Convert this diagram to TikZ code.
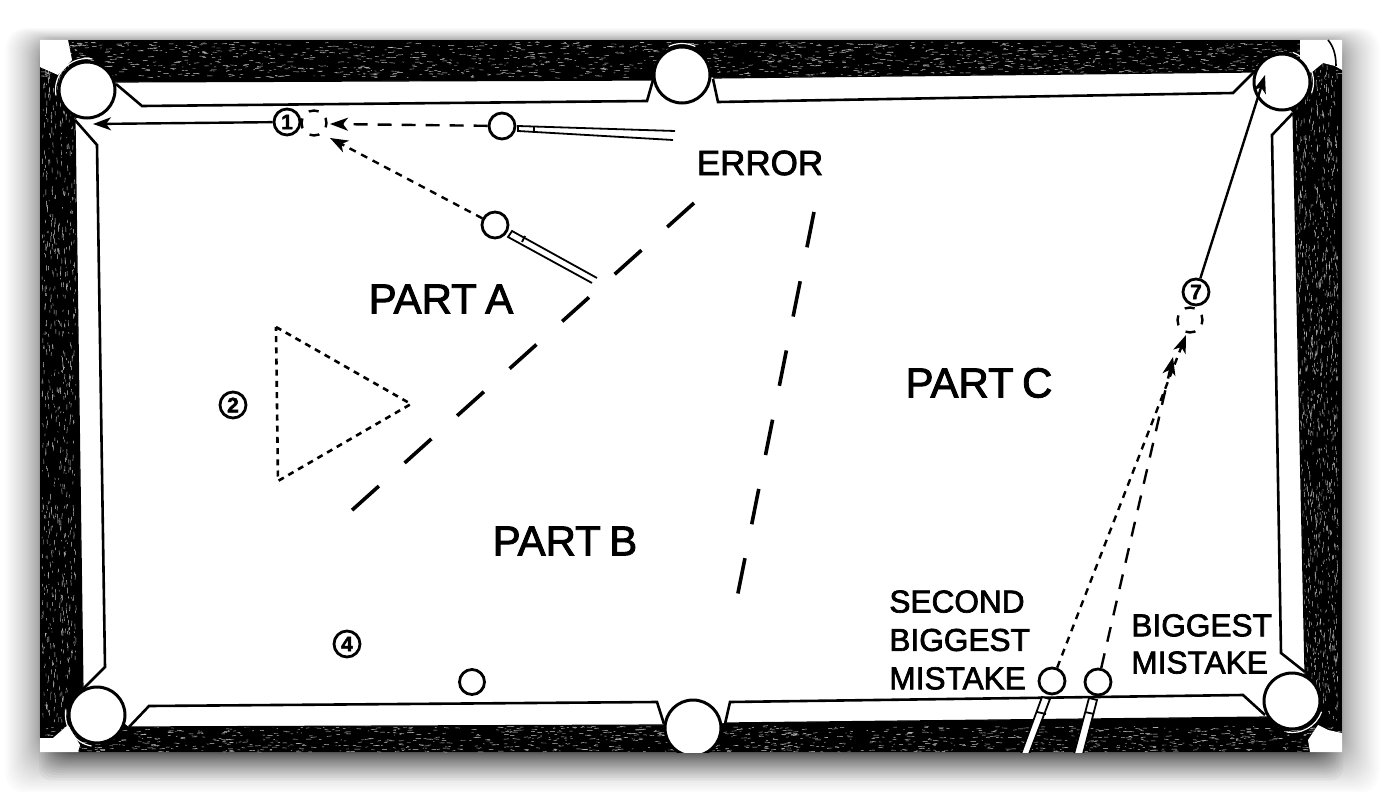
\documentclass[tikz,border=0pt]{standalone}
\usepackage{xcolor}
\usepackage{fontspec}
\setmainfont[FakeBold=2.2]{Liberation Sans}
\usetikzlibrary{arrows.meta}
\newcommand{\tightwords}{\spaceskip=.2em\relax}

\begin{document}
\begin{tikzpicture}[
    x=0.5pt,
    y=-0.5pt,
    ballnode/.style={
        circle,
        draw=black,
        fill=white,
        line width=1.4pt,
        minimum size=13pt,
        inner sep=0pt,
        font=\bfseries\fontsize{10.5}{10.5}\selectfont
    },
    ghostnode/.style={
        circle,
        draw=black,
        line width=1.2pt,
        minimum size=12.5pt,
        inner sep=0pt,
        dash pattern=on 5pt off 4.8pt,
        dash phase=2.4pt
    },
    pocket/.style={
        circle,
        draw=black,
        fill=white,
        line width=1.5pt,
        minimum size=28pt,
        inner sep=0pt
    },
    pocketrim/.style={
        white,
        line width=.6pt
    },
    label/.style={
        font=\fontsize{17.5}{21}\selectfont,
        text=black,
        inner sep=0pt
    },
    partlabel/.style={
        font=\fontsize{21}{26}\selectfont\tightwords,
        text=black,
        inner sep=0pt
    },
    cushion/.style={
        line width=1.3pt,
        line join=miter
    },
    stick/.style={
        draw=black,
        fill=white,
        line width=.9pt
    },
    shot/.style={
        line width=1.2pt,
        -{Stealth[length=9pt,width=6.5pt,inset=2.5pt]}
    },
    divider/.style={
        line width=1.8pt,
        dash pattern=on 18pt off 17.3pt
    }
]

% Page and shadow
\useasboundingbox (0,0) rectangle (1382,792);
\fill[white] (0,0) rectangle (1382,792);
\foreach \r in {1,...,30}
    \fill[black, opacity=.014, rounded corners=10pt]
        ({40-\r*\r/26},{41-\r*\r/70}) rectangle ({1342+\r*\r/24},{752+\r*\r/22});
\foreach \r in {1,...,20}
    \fill[black, opacity=.03, rounded corners=6pt]
        ({64-\r*\r/16},740) rectangle ({1318+\r*\r/16},{752+\r*\r/14});

\begin{scope}
\clip (40,40) rectangle (1342,752);

% Rail
\fill[black] (40,40) rectangle (1342,752);
\pgfmathsetseed{4711}
\foreach \i in {1,...,1500}
    \draw[white!80!black, line width=.22pt] ({40+rnd*1302},{42+rnd*36}) -- ++({1+rnd*5},{rnd-.5});
\foreach \i in {1,...,1200}
    \draw[white!80!black, line width=.22pt] ({40+rnd*1302},{726+rnd*26}) -- ++({1+rnd*5},{rnd-.5});
\foreach \i in {1,...,700}
    \draw[white!80!black, line width=.22pt] ({42+rnd*34},{60+rnd*660}) -- ++({rnd-.5},{1+rnd*5});
\foreach \i in {1,...,1200}
    \draw[white!80!black, line width=.22pt] ({1296+rnd*42},{60+rnd*660}) -- ++({rnd-.5},{1+rnd*5});

% Corners
\fill[white] (40,40) -- (68,40) -- (72,60) -- (58,75) -- (40,67) -- cycle;
\fill[white] (1300,40) -- (1342,40) -- (1342,70) -- (1335,66) -- (1323,63) -- (1312,72) -- (1300,75) -- cycle;
\fill[white] (40,738) -- (53,738) -- (68,725) -- (80,745) -- (78,752) -- (40,752) -- cycle;
\fill[white] (1310,752) -- (1308,740) -- (1318,725) -- (1328,730) -- (1342,733) -- (1342,752) -- cycle;
\draw[line width=.8pt] (1328,40) .. controls (1333,46) and (1336,54) .. (1336,66);

% Bed of the table
\fill[white] (112,82) -- (653,80) -- (713,78) -- (1255,72) -- (1293,113) -- (1305,672)
    -- (1268,717) -- (725,723) -- (664,725) -- (129,727) -- (83,690) -- (75,120) -- cycle;
\draw[line width=.6pt] (112,82) -- (653,80) (713,78) -- (1255,72) (1293,113) -- (1305,672)
    (1268,717) -- (725,723) (664,725) -- (129,727) (83,690) -- (75,120);

% Cushions
\draw[cushion] (116,84) -- (142,106) -- (647,101) -- (653,80);
\draw[cushion] (713,79) -- (718,102) -- (1233,93) -- (1254,72);
\draw[cushion] (1293,113) -- (1272,135) -- (1281,653) -- (1305,672);
\draw[cushion] (1265,715) -- (1243,695) -- (730,702) -- (725,724);
\draw[cushion] (664,724) -- (657,702) -- (149,706) -- (129,727);
\draw[cushion] (75,120) -- (97,145) -- (105,667) -- (83,689);

% Pockets
\node[pocket] (topleft) at (87,90) {};
\node[pocket] (topmid) at (682,75) {};
\node[pocket] (topright) at (1282,82) {};
\node[pocket] (botleft) at (97,715) {};
\node[pocket] (botmid) at (693,728) {};
\node[pocket] (botright) at (1292,701) {};
\draw[pocketrim] ([shift={(170:31.5)}]topleft.center) arc (170:280:31.5);
\draw[pocketrim] ([shift={(245:31.5)}]topmid.center) arc (245:295:31.5);
\draw[pocketrim] ([shift={(-70:31.5)}]topright.center) arc (-70:20:31.5);
\draw[pocketrim] ([shift={(100:31.5)}]botleft.center) arc (100:190:31.5);
\draw[pocketrim] ([shift={(20:31.5)}]botright.center) arc (20:100:31.5);

% Cue sticks
\draw[stick] (1042,697) -- (1021,754) -- (1029,754) -- (1050,699) -- cycle;
\draw[stick] (1089,698) -- (1074,754) -- (1083,754) -- (1097,700) -- cycle;
\draw[line width=.9pt] (1037,712) -- (1046,714) (1085,712) -- (1094,714);
\draw[stick, fill=none] (675,131) -- (518,126) -- (518,131) -- (673,140);
\draw[stick, fill=none] (597,278) -- (512,231) -- (508,237) -- (592,283);
\draw[line width=.9pt] (534,127) -- (534,132) (525,236) -- (522,242);

% Balls
\node[ballnode] (ballone) at (287,122) {1};
\node[ghostnode] (ghostone) at (314,123) {};
\node[ballnode] (cueupper) at (502,126) {};
\node[ballnode] (cuelower) at (495,225) {};
\node[ballnode] (balltwo) at (233,405) {2};
\node[ballnode] (ballfour) at (347,644) {4};
\node[ballnode, minimum size=12.5pt] (cuefree) at (472,682) {};
\node[ballnode] (ballseven) at (1196,292) {7};
\node[ghostnode] (ghostseven) at (1190,320) {};
\node[ballnode] (cuesecond) at (1052,681) {};
\node[ballnode] (cuefirst) at (1098,682) {};

% Free ends of the shots
\coordinate (tipone) at (93,124);
\coordinate (tipseven) at (1265,75);
\coordinate (hitdotted) at (1186,335);
\coordinate (hitdashed) at (1173,357);
\coordinate (hitupper) at (330,124);
\coordinate (hitlower) at (330,138);

% Shots
\draw[shot] (ballone) -- (tipone);
\draw[shot] (ballseven) -- (tipseven);
\draw[shot, dash pattern=on 7pt off 5pt] (cueupper) -- (hitupper);
\draw[shot, dash pattern=on 3.5pt off 3pt] (cuelower) -- (hitlower);
\draw[shot, dash pattern=on 3.5pt off 3pt] (cuesecond) -- (hitdotted);
\draw[shot, dash pattern=on 7.5pt off 6pt] (cuefirst) -- (hitdashed);

% Rack
\draw[line width=1.3pt, dash pattern=on 3pt off 2.6pt] (276,327) -- (411,404) -- (278,481) -- cycle;

% Dividers
\coordinate (diva) at (694,203);
\coordinate (divb) at (350,512);
\coordinate (divc) at (814,212);
\coordinate (divd) at (737,598);
\draw[divider] (diva) -- (divb);
\draw[divider] (divc) -- (divd);

% Labels
\node[label] (error) at (760,163) {ERROR};
\node[partlabel] (parta) at (441,299) {PART A};
\node[partlabel] (partb) at (565,541) {PART B};
\node[partlabel] (partc) at (979,383) {PART C};
\node[label, font=\fontsize{15.8}{19.2}\selectfont, align=left, anchor=west] (second) at (889,640) {SECOND\\BIGGEST\\MISTAKE};
\node[label, font=\fontsize{15.8}{18.6}\selectfont, align=left, anchor=west] (biggest) at (1131,644) {BIGGEST\\MISTAKE};
\end{scope}
\end{tikzpicture}
\end{document}
